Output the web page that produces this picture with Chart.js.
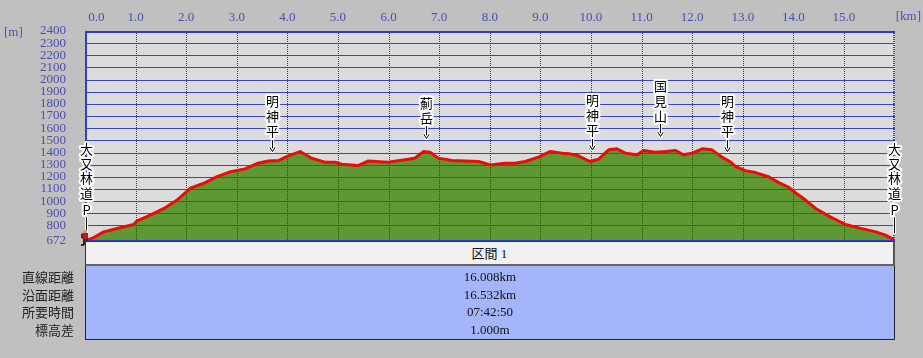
<!DOCTYPE html>
<html><head><meta charset="utf-8">
<script src="https://cdn.jsdelivr.net/npm/chart.js@4/dist/chart.umd.min.js"></script>
<style>
html,body{margin:0;padding:0;background:#c0c0c0;width:923px;height:358px;overflow:hidden;}
#wrap{position:relative;width:923px;height:358px;}
#c{position:absolute;left:0;top:0;}
.hdr{position:absolute;left:85px;top:241px;width:810px;height:25px;box-sizing:border-box;background:#f0f0f0;border-top:1px solid #333;border-left:1px solid #333;border-right:2px solid #555;border-bottom:2px solid #666;font-family:"Liberation Serif","Noto Sans CJK JP";font-size:13px;color:#111;text-align:center;line-height:23px;}
.body{position:absolute;left:85px;top:266px;width:810px;height:74px;box-sizing:border-box;background:#a5b5fb;border-left:1px solid #223;border-right:1px solid #223;border-bottom:1px solid #223;}
.lab{position:absolute;left:0;top:268px;width:74px;text-align:right;font-family:"Noto Sans CJK JP";font-size:13px;color:#222;line-height:17.7px;}
.val{position:absolute;left:85px;top:268px;width:810px;text-align:center;font-family:"Liberation Serif";font-size:13px;color:#111;line-height:17.7px;}
</style></head>
<body><div id="wrap"><canvas id="c" width="923" height="358"></canvas>
<div class="hdr" id="hdr"></div>
<div class="body"></div>
<div class="lab" id="labs"></div>
<div class="val" id="vals"></div>
</div>
<script>
// distance along route [km]
const kmData = [0, 0.17, 0.37, 0.63, 0.96, 1.02, 1.29, 1.56, 1.82, 2.08, 2.35, 2.61, 2.88, 3.16, 3.42, 3.62, 3.82, 4.02, 4.25, 4.48, 4.74, 4.94, 5.07, 5.40, 5.60, 5.99, 6.39, 6.52, 6.69, 6.82, 6.98, 7.25, 7.51, 7.78, 8.01, 8.30, 8.50, 8.70, 8.96, 9.19, 9.43, 9.59, 9.75, 9.98, 10.15, 10.35, 10.51, 10.68, 10.91, 11.04, 11.27, 11.47, 11.67, 11.83, 12.00, 12.20, 12.39, 12.59, 12.76, 12.86, 13.05, 13.25, 13.51, 13.71, 13.91, 14.04, 14.24, 14.44, 14.70, 15.03, 15.29, 15.63, 15.82, 15.95, 16.008];
// elevation [m]
const elevData = [672, 700, 747, 775, 808, 835, 885, 940, 1009, 1106, 1147, 1201, 1243, 1265, 1312, 1331, 1334, 1373, 1408, 1353, 1321, 1321, 1304, 1293, 1331, 1321, 1345, 1354, 1408, 1403, 1354, 1334, 1331, 1326, 1298, 1312, 1312, 1326, 1362, 1408, 1395, 1389, 1373, 1326, 1345, 1422, 1431, 1395, 1381, 1417, 1403, 1408, 1417, 1381, 1395, 1431, 1422, 1362, 1321, 1284, 1251, 1235, 1201, 1152, 1114, 1069, 1009, 940, 877, 808, 780, 747, 720, 692, 672];
// x tick positions (16 is the unlabelled end stop) and vertical grid lines
const xTicks = [0,1,2,3,4,5,6,7,8,9,10,11,12,13,14,15,16];
const xGrid = [1,2,3,4,5,6,7,8,9,10,11,12,13,14,15];
const yTicks = [672,800,900,1000,1100,1200,1300,1400,1500,1600,1700,1800,1900,2000,2100,2200,2300,2400];
const yGrid = [800,900,1000,1100,1200,1300,1400,1500,1600,1700,1800,1900,2000,2100,2200,2300];
// waypoints
const wpNames = ['大又林道P','明神平','薊岳','明神平','国見山','明神平','大又林道P'];
const wpKm = [0, 3.69, 6.73, 10.02, 11.36, 12.69, 16.008];
const wpTip = [740, 1408, 1515, 1422, 1532, 1408, 740];
// summary table
const sectionName = '区間 1';
const rowLabels = ['直線距離','沿面距離','所要時間','標高差'];
const rowValues = ['16.008km','16.532km','07:42:50','1.000m'];

document.getElementById('hdr').textContent = sectionName;
document.getElementById('labs').innerHTML = rowLabels.join('<br>');
document.getElementById('vals').innerHTML = rowValues.join('<br>');

const points = kmData.map((k,i)=>({x:k, y:elevData[i]}));
const axisColor = '#4a4eb0';
const cjk = '13px "Noto Sans CJK JP"';

function haloText(ctx, t, x, y){
  ctx.lineWidth = 4; ctx.strokeStyle = '#ffffff'; ctx.lineJoin = 'round';
  ctx.strokeText(t, x, y);
  ctx.fillStyle = '#000'; ctx.fillText(t, x, y);
}
function haloLine(ctx, pts){
  ctx.lineCap='round';
  ctx.strokeStyle='#fff'; ctx.lineWidth=3;
  ctx.beginPath(); pts.forEach((p,i)=> i?ctx.lineTo(p[0],p[1]):ctx.moveTo(p[0],p[1])); ctx.stroke();
  ctx.strokeStyle='#000'; ctx.lineWidth=1;
  ctx.beginPath(); pts.forEach((p,i)=> i?ctx.lineTo(p[0],p[1]):ctx.moveTo(p[0],p[1])); ctx.stroke();
}

const deco = {
  id:'deco',
  beforeDraw(chart){
    const {ctx, chartArea:a} = chart;
    ctx.save(); ctx.fillStyle='#dcdcdc';
    ctx.fillRect(a.left, a.top, a.right-a.left, a.bottom-a.top);
    ctx.restore();
  },
  beforeDatasetDraw(chart, args){
    if(args.index!==0) return;
    const {ctx, chartArea:a, scales:{x:xs, y:ys}} = chart;
    ctx.save();
    ctx.strokeStyle='#3848c4'; ctx.lineWidth=1;
    yGrid.forEach(v=>{
      const y = Math.round(ys.getPixelForValue(v))+0.5;
      ctx.beginPath(); ctx.moveTo(a.left,y); ctx.lineTo(a.right,y); ctx.stroke();
    });
    ctx.strokeStyle='#2a36a8'; ctx.setLineDash([1,1]);
    xGrid.forEach(v=>{
      const x = Math.round(xs.getPixelForValue(v))+0.5;
      ctx.beginPath(); ctx.moveTo(x,a.top); ctx.lineTo(x,a.bottom); ctx.stroke();
    });
    ctx.restore();
  },
  afterDatasetsDraw(chart){
    const {ctx, chartArea:a, scales:{x:xs, y:ys}} = chart;
    ctx.save();
    // borders
    ctx.strokeStyle='#2f3fc0';
    ctx.lineWidth=2;
    ctx.beginPath(); ctx.moveTo(a.left, a.top+1); ctx.lineTo(a.right, a.top+1); ctx.stroke();
    ctx.beginPath(); ctx.moveTo(a.left+1, a.top); ctx.lineTo(a.left+1, a.bottom); ctx.stroke();
    ctx.lineWidth=1;
    ctx.beginPath(); ctx.moveTo(a.left, a.bottom-0.5); ctx.lineTo(a.right, a.bottom-0.5); ctx.stroke();
    ctx.lineWidth=2; ctx.setLineDash([1,1]);
    ctx.beginPath(); ctx.moveTo(a.right-1, a.top); ctx.lineTo(a.right-1, a.bottom); ctx.stroke();
    ctx.setLineDash([]);
    // waypoint labels
    ctx.font = cjk; ctx.textAlign='center'; ctx.textBaseline='middle';
    wpNames.forEach((name,i)=>{
      let x = Math.round(xs.getPixelForValue(wpKm[i]));
      const T = ys.getPixelForValue(wpTip[i]);
      const end = (i===0 || i===wpNames.length-1);
      if(end){
        x = (i===0) ? x+1 : x-1;
        x += 0.5;
        haloLine(ctx, [[x, T-15],[x, T]]);
        const chars = Array.from(name);
        const offs = [83.5, 69, 54.5, 40, 23];
        chars.forEach((c,j)=> haloText(ctx, c, x, T-offs[j]));
      } else {
        x += 0.5;
        haloLine(ctx, [[x, T-13],[x, T]]);
        haloLine(ctx, [[x-2.5, T-4],[x, T],[x+2.5, T-4]]);
        const chars = Array.from(name);
        const n = chars.length;
        chars.forEach((c,j)=> haloText(ctx, c, x, T-20-(n-1-j)*15));
      }
    });
    ctx.restore();
  },
  afterDraw(chart){
    const {ctx, scales:{x:xs, y:ys}} = chart;
    ctx.save();
    // unit labels
    ctx.font='13px "Liberation Serif"'; ctx.fillStyle=axisColor; ctx.textBaseline='middle';
    ctx.textAlign='left'; ctx.fillText('[m]', 4, 33);
    ctx.textAlign='right'; ctx.fillText('[km]', 921, 17);
    // hiker icon at start point
    const x0 = Math.round(xs.getPixelForValue(0)), y0 = Math.round(ys.getPixelForValue(672));
    ctx.fillStyle='#d8a070'; ctx.fillRect(x0-2, y0-11, 4, 3);
    ctx.fillStyle='#b02020'; ctx.fillRect(x0-3, y0-8, 6, 6);
    ctx.fillStyle='#702020'; ctx.fillRect(x0-4, y0-7, 2, 4);
    ctx.fillStyle='#302818'; ctx.fillRect(x0-2, y0-2, 2, 6); ctx.fillRect(x0+1, y0-2, 2, 5);
    ctx.fillRect(x0-4, y0+3, 3, 2); ctx.fillRect(x0+2, y0+2, 3, 2);
    ctx.restore();
  }
};

new Chart(document.getElementById('c'), {
  type:'line',
  data:{datasets:[{data:points, borderColor:'#ee0a0a', borderWidth:3, backgroundColor:'#5e9832', fill:'start', pointRadius:0, tension:0, borderJoinStyle:'round', borderCapStyle:'round'}]},
  options:{
    responsive:false, animation:false, events:[],
    layout:{padding:{left:0, top:0, right:28, bottom:117}},
    plugins:{legend:{display:false}, tooltip:{enabled:false}},
    scales:{
      x:{type:'linear', position:'top', min:0, max:16.008,
        afterBuildTicks:s=>{ s.ticks = xTicks.map(v=>({value:v})); },
        afterFit:s=>{ s.height = 31; },
        grid:{display:false}, border:{display:false},
        ticks:{color:axisColor, font:{family:'Liberation Serif', size:13}, padding:-2, align:'inner', maxRotation:0, autoSkip:false,
          callback:v=> v===16 ? '' : (v===0 ? ' 0.0' : Number(v).toFixed(1))}},
      y:{type:'linear', min:672, max:2400,
        afterBuildTicks:s=>{ s.ticks = yTicks.map(v=>({value:v})); },
        afterFit:s=>{ s.width = 85; },
        grid:{display:false}, border:{display:false},
        ticks:{color:axisColor, font:{family:'Liberation Serif', size:13, lineHeight:1}, padding:11, autoSkip:false, callback:v=>String(v)}}
    }
  },
  plugins:[deco]
});
</script>
</body></html>
